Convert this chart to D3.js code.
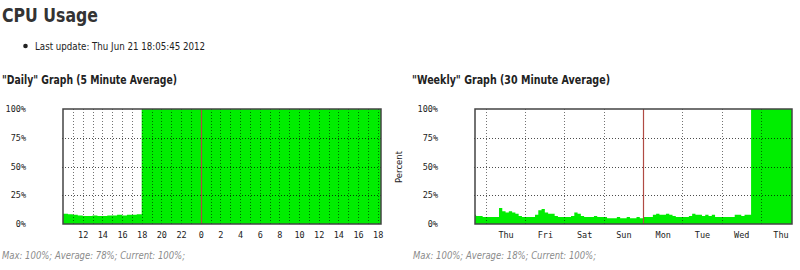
<!DOCTYPE html>
<html>
<head>
<meta charset="utf-8">
<script src="https://cdn.jsdelivr.net/npm/d3@7"></script>
<style>
  html, body { margin: 0; padding: 0; background: #fff; }
  svg { display: block; }
</style>
</head>
<body>
<svg id="chart" width="800" height="270"></svg>
<script>
// ---------------- DATA ----------------
const pageTitle = "CPU Usage";
const lastUpdate = "Last update: Thu Jun 21 18:05:45 2012";
const dailyTitle = "\"Daily\" Graph (5 Minute Average)";
const weeklyTitle = "\"Weekly\" Graph (30 Minute Average)";
const dailySummary = "Max: 100%; Average: 78%; Current: 100%;";
const weeklySummary = "Max: 100%; Average: 18%; Current: 100%;";
const yLabel = "Percent";
const yTicks = [0, 25, 50, 75, 100];

// Daily: samples every 30 min starting Wed Jun 20 10:00
const dailyStart = new Date(2012, 5, 20, 10, 0);
const dailyEnd = new Date(2012, 5, 21, 18, 20);
const dailyStepMin = 30;
const dailyValues = [
  9, 8.5, 8, 7.5, 7, 7, 7.5, 7, 7, 7.5, 7.5, 8, 7.5, 8, 8, 8.5,          // 10:00 - 17:30
  100, 100, 100, 100, 100, 100, 100, 100, 100, 100, 100, 100,           // 18:00 - 23:30
  100, 100, 100, 100, 100, 100, 100, 100, 100, 100, 100, 100,           // 00:00 - 05:30
  100, 100, 100, 100, 100, 100, 100, 100, 100, 100, 100, 100,           // 06:00 - 11:30
  100, 100, 100, 100, 100, 100, 100, 100, 100, 100, 100, 100, 100, 100  // 12:00 - 18:30
];
const dailyMarker = new Date(2012, 5, 21, 0, 0);

// Weekly: samples every 2 hours starting Wed Jun 13 16:00
const weeklyStart = new Date(2012, 5, 13, 17, 20);
const weeklyEnd = new Date(2012, 5, 21, 19, 0);
const weeklyFirstSample = new Date(2012, 5, 13, 16, 0);
const weeklyStepHours = 2;
const weeklyValues = [
  8, 7, 7, 6,                                         // Wed 16-22
  6, 6, 6, 6, 14, 11, 10, 11, 10, 9, 7, 6,            // Thu
  6, 6, 6, 8, 12, 13, 10, 9, 9, 7, 6, 6,              // Fri
  6, 6, 7, 10, 9, 7, 6, 6, 6, 7, 6, 6,                // Sat
  6, 5, 5, 5, 6, 5, 5, 6, 5, 5, 6, 5,                 // Sun
  6, 6, 6, 8, 9, 8, 8, 9, 8, 7, 6, 6,                 // Mon
  6, 6, 7, 9, 8, 8, 7, 8, 7, 8, 6, 6,                 // Tue
  6, 6, 6, 6, 8, 8, 7, 8, 8, 100, 100, 100,           // Wed
  100, 100, 100, 100, 100, 100, 100, 100, 100, 100, 100 // Thu 00-20
];
const weeklyMarker = new Date(2012, 5, 18, 0, 0);

// ---------------- DRAW ----------------
const svg = d3.select("#chart");
const green = "#00ee00";
const markerColor = "#b04a44";

svg.append("text")
  .attr("x", 2).attr("y", 22)
  .attr("font-family", "DejaVu Sans, sans-serif")
  .attr("font-weight", "bold").attr("font-size", 20)
  .attr("fill", "#333")
  .attr("textLength", 96).attr("lengthAdjust", "spacingAndGlyphs")
  .text(pageTitle);

svg.append("circle").attr("cx", 25.5).attr("cy", 46).attr("r", 2.3).attr("fill", "#222");
svg.append("text")
  .attr("x", 35).attr("y", 50)
  .attr("font-family", "DejaVu Sans, sans-serif")
  .attr("font-size", 10.5).attr("fill", "#222")
  .attr("textLength", 170).attr("lengthAdjust", "spacingAndGlyphs")
  .text(lastUpdate);

function header(x, txt, w) {
  svg.append("text")
    .attr("x", x).attr("y", 84)
    .attr("font-family", "DejaVu Sans, sans-serif")
    .attr("font-weight", "bold").attr("font-size", 11.5).attr("fill", "#222")
    .attr("textLength", w).attr("lengthAdjust", "spacingAndGlyphs")
    .text(txt);
}
header(2, dailyTitle, 175);
header(412, weeklyTitle, 198);

function footer(x, txt) {
  svg.append("text")
    .attr("x", x).attr("y", 259)
    .attr("font-family", "DejaVu Sans, sans-serif")
    .attr("font-style", "italic").attr("font-size", 10).attr("fill", "#8a8a8a")
    .attr("textLength", 183).attr("lengthAdjust", "spacingAndGlyphs")
    .text(txt);
}
footer(2, dailySummary);
footer(413, weeklySummary);

function drawGraph(opts) {
  const { left, right, top, bottom, domain, series, gridTimes, tickTimes, tickFormat, marker, id } = opts;
  const g = svg.append("g");
  const x = d3.scaleTime().domain(domain).range([left, right]);
  const y = d3.scaleLinear().domain([0, 100]).range([bottom, top]);

  g.append("clipPath").attr("id", id).append("rect")
    .attr("x", left).attr("y", top).attr("width", right - left).attr("height", bottom - top);

  const area = d3.area()
    .x(d => x(d.t)).y0(y(0)).y1(d => y(d.v))
    .curve(d3.curveStepAfter);
  g.append("path").datum(series)
    .attr("clip-path", `url(#${id})`)
    .attr("fill", green).attr("d", area);

  // vertical grid
  g.append("g").selectAll("line").data(gridTimes).join("line")
    .attr("x1", d => Math.round(x(d)) + 0.5).attr("x2", d => Math.round(x(d)) + 0.5)
    .attr("y1", top).attr("y2", bottom)
    .attr("stroke", "#000").attr("stroke-opacity", 0.55)
    .attr("stroke-dasharray", "1,2");

  // horizontal grid
  g.append("g").selectAll("line").data(yTicks.filter(v => v > 0 && v < 100)).join("line")
    .attr("x1", left - 1).attr("x2", right + 2)
    .attr("y1", d => Math.round(y(d)) + 0.5).attr("y2", d => Math.round(y(d)) + 0.5)
    .attr("stroke", "#000").attr("stroke-opacity", 0.7)
    .attr("stroke-dasharray", "1,2");

  // marker line
  g.append("line")
    .attr("x1", Math.round(x(marker)) + 0.5).attr("x2", Math.round(x(marker)) + 0.5)
    .attr("y1", top).attr("y2", bottom)
    .attr("stroke", markerColor).attr("stroke-width", 1.2);

  // frame
  g.append("rect")
    .attr("x", left).attr("y", top).attr("width", right - left).attr("height", bottom - top)
    .attr("fill", "none").attr("stroke", "#444").attr("stroke-width", 1.5);

  // y axis
  const ya = g.append("g").attr("transform", `translate(${left},0)`)
    .call(d3.axisLeft(y).tickValues(yTicks).tickSize(0).tickPadding(37).tickFormat(d => d + "%"));
  ya.select(".domain").remove();
  ya.selectAll("text").attr("font-family", "DejaVu Sans Mono, monospace").attr("font-size", 8.5).attr("fill", "#222");

  // x axis
  const xa = g.append("g").attr("transform", `translate(0,${bottom})`)
    .call(d3.axisBottom(x).tickValues(tickTimes).tickSize(0).tickPadding(8).tickFormat(tickFormat));
  xa.select(".domain").remove();
  xa.selectAll("text").attr("font-family", "DejaVu Sans Mono, monospace").attr("font-size", 8.5).attr("fill", "#222");
  return { x, y };
}

// Daily
const dailySeries = dailyValues.map((v, i) => ({ t: new Date(+dailyStart + i * dailyStepMin * 60000), v }));
const dailyHours = d3.timeHour.range(new Date(+dailyStart + 1), dailyEnd);
const dailyTicks = d3.timeHour.every(2).range(new Date(2012, 5, 20, 11, 0), dailyEnd);
drawGraph({
  id: "clipDaily",
  left: 63, right: 381, top: 109, bottom: 224,
  domain: [dailyStart, dailyEnd],
  series: dailySeries,
  gridTimes: dailyHours,
  tickTimes: dailyTicks,
  tickFormat: d3.timeFormat("%-H"),
  marker: dailyMarker
});

// Weekly
const weeklySeries = weeklyValues.map((v, i) => ({ t: new Date(+weeklyFirstSample + i * weeklyStepHours * 3600000), v }));
const weeklyMidnights = d3.timeDay.range(weeklyStart, weeklyEnd);
const weeklyNoons = weeklyMidnights.map(d => d3.timeHour.offset(d, 12)).filter(d => d < weeklyEnd);
drawGraph({
  id: "clipWeekly",
  left: 475, right: 792, top: 109, bottom: 224,
  domain: [weeklyStart, weeklyEnd],
  series: weeklySeries,
  gridTimes: weeklyMidnights,
  tickTimes: weeklyNoons,
  tickFormat: d3.timeFormat("%a"),
  marker: weeklyMarker
});

svg.append("text")
  .attr("transform", "translate(402,167) rotate(-90)")
  .attr("text-anchor", "middle")
  .attr("font-family", "DejaVu Sans, sans-serif")
  .attr("font-size", 8.5).attr("fill", "#222")
  .text(yLabel);
</script>
</body>
</html>
